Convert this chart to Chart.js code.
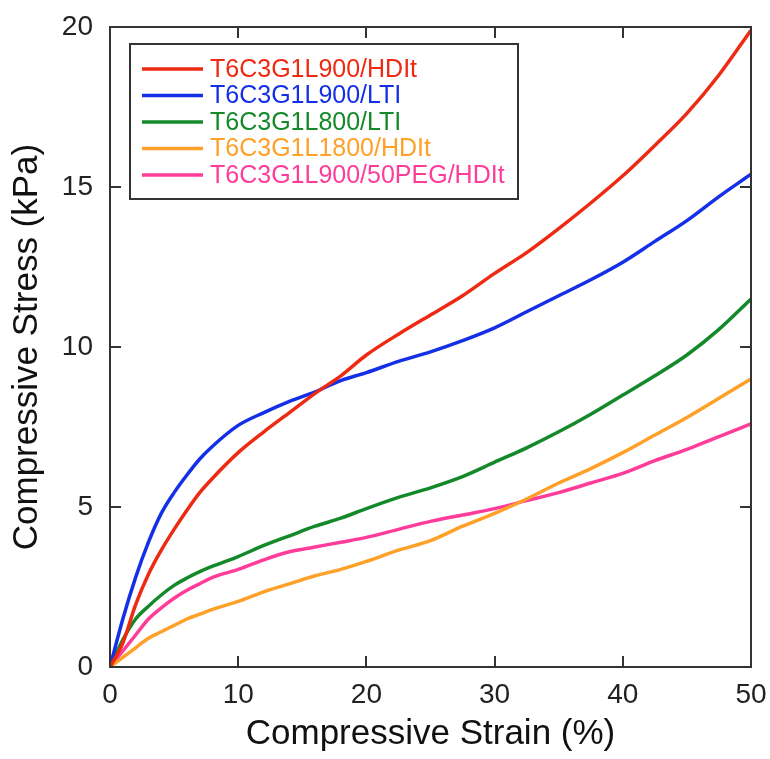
<!DOCTYPE html>
<html>
<head>
<meta charset="utf-8">
<script src="https://cdn.jsdelivr.net/npm/chart.js@4/dist/chart.umd.min.js"></script>
<style>
  html, body { margin: 0; padding: 0; background: #fff; }
  #wrap { width: 770px; height: 759px; }
</style>
</head>
<body>
<div id="wrap"><canvas id="stressChart" width="770" height="759"></canvas></div>
<script>
// strain (%) sample points shared by all curves
const strain = [0, 1, 2, 3, 4, 5, 6, 7, 8, 10, 12, 14, 16, 18, 20, 22.5, 25, 27.5, 30, 32.5, 35, 37.5, 40, 42.5, 45, 47.5, 50];

// compressive stress (kPa)
const l900Hdit  = [0, 0.75, 1.95, 2.9, 3.65, 4.3, 4.9, 5.45, 5.9, 6.7, 7.35, 7.95, 8.55, 9.1, 9.75, 10.4, 11.0, 11.6, 12.3, 12.95, 13.7, 14.5, 15.35, 16.3, 17.3, 18.5, 19.9];
const l900Lti   = [0, 1.5, 2.8, 3.9, 4.8, 5.45, 6.0, 6.5, 6.9, 7.55, 7.95, 8.3, 8.6, 8.95, 9.2, 9.55, 9.85, 10.2, 10.6, 11.1, 11.6, 12.1, 12.65, 13.3, 13.95, 14.7, 15.4];
const l800Lti   = [0, 0.85, 1.5, 1.9, 2.25, 2.55, 2.78, 2.98, 3.15, 3.45, 3.8, 4.1, 4.4, 4.65, 4.95, 5.3, 5.6, 5.95, 6.4, 6.85, 7.35, 7.9, 8.5, 9.1, 9.75, 10.55, 11.5];
const l1800Hdit = [0, 0.3, 0.6, 0.9, 1.1, 1.3, 1.5, 1.65, 1.8, 2.05, 2.35, 2.6, 2.85, 3.05, 3.3, 3.65, 3.95, 4.4, 4.8, 5.25, 5.75, 6.2, 6.7, 7.25, 7.8, 8.4, 9.0];
const pegHdit   = [0, 0.5, 1.0, 1.5, 1.85, 2.15, 2.4, 2.6, 2.8, 3.05, 3.35, 3.6, 3.75, 3.9, 4.05, 4.3, 4.55, 4.75, 4.95, 5.2, 5.45, 5.75, 6.05, 6.45, 6.8, 7.2, 7.6];

const seriesNames = ['T6C3G1L900/HDIt', 'T6C3G1L900/LTI', 'T6C3G1L800/LTI', 'T6C3G1L1800/HDIt', 'T6C3G1L900/50PEG/HDIt'];
const seriesData = [l900Hdit, l900Lti, l800Lti, l1800Hdit, pegHdit];
const seriesColors = ['#ee2a12', '#1430e6', '#14892a', '#ffa028', '#ff3c9a'];

const xTicks = [0, 10, 20, 30, 40, 50];
const yTicks = [0, 5, 10, 15, 20];

const font = 'Liberation Sans, Arial, Helvetica, sans-serif';

// closed frame with inward tick marks on all four sides
const framePlugin = {
  id: 'frame',
  afterDatasetsDraw(chart) {
    const { ctx, chartArea: a, scales } = chart;
    const len = 11;
    ctx.save();
    ctx.strokeStyle = '#333';
    ctx.lineWidth = 2;
    ctx.strokeRect(a.left, a.top, a.right - a.left, a.bottom - a.top);
    ctx.beginPath();
    xTicks.forEach(v => {
      const px = Math.round(scales.x.getPixelForValue(v));
      ctx.moveTo(px, a.bottom); ctx.lineTo(px, a.bottom - len);
      ctx.moveTo(px, a.top); ctx.lineTo(px, a.top + len);
    });
    yTicks.forEach(v => {
      const py = Math.round(scales.y.getPixelForValue(v));
      ctx.moveTo(a.left, py); ctx.lineTo(a.left + len, py);
      ctx.moveTo(a.right, py); ctx.lineTo(a.right - len, py);
    });
    ctx.stroke();
    ctx.restore();
  }
};

// boxed legend in the upper left of the plot
const boxLegend = {
  id: 'boxLegend',
  afterDraw(chart) {
    const { ctx } = chart;
    const x0 = 130, y0 = 44, w = 388, h = 155;
    ctx.save();
    ctx.fillStyle = '#fff';
    ctx.fillRect(x0, y0, w, h);
    ctx.strokeStyle = '#333';
    ctx.lineWidth = 2;
    ctx.strokeRect(x0, y0, w, h);
    ctx.font = '25px ' + font;
    ctx.textBaseline = 'middle';
    chart.data.datasets.forEach((ds, i) => {
      const y = 69 + i * 26.5;
      ctx.strokeStyle = ds.borderColor;
      ctx.lineWidth = 3.5;
      ctx.beginPath();
      ctx.moveTo(142, y);
      ctx.lineTo(203, y);
      ctx.stroke();
      ctx.fillStyle = ds.borderColor;
      ctx.fillText(ds.label, 210, y + 1);
    });
    ctx.restore();
  }
};

new Chart(document.getElementById('stressChart'), {
  type: 'line',
  data: {
    datasets: seriesNames.map((name, i) => ({
      label: name,
      data: strain.map((s, j) => ({ x: s, y: seriesData[i][j] })),
      borderColor: seriesColors[i],
      backgroundColor: seriesColors[i],
      borderWidth: 3.5,
      pointRadius: 0,
      cubicInterpolationMode: 'monotone',
      fill: false
    }))
  },
  options: {
    responsive: false,
    animation: false,
    layout: { padding: { top: 27, right: 19, left: 0, bottom: 0 } },
    plugins: {
      legend: { display: false },
      tooltip: { enabled: false }
    },
    scales: {
      x: {
        type: 'linear',
        min: 0,
        max: 50,
        afterFit(scale) {
          scale.height = 92;
          scale.paddingLeft = 0;
          scale.paddingRight = 0;
        },
        afterBuildTicks(scale) { scale.ticks = xTicks.map(v => ({ value: v })); },
        grid: { display: false, drawTicks: false },
        border: { display: false },
        ticks: { color: '#222', font: { family: font, size: 28 }, padding: 11, maxRotation: 0 },
        title: {
          display: true,
          text: 'Compressive Strain (%)',
          color: '#111',
          font: { family: font, size: 35 },
          padding: { top: 0, bottom: 4 }
        }
      },
      y: {
        type: 'linear',
        min: 0,
        max: 20,
        afterFit(scale) {
          scale.width = 110;
          scale.paddingTop = 0;
          scale.paddingBottom = 0;
        },
        afterBuildTicks(scale) { scale.ticks = yTicks.map(v => ({ value: v })); },
        grid: { display: false, drawTicks: false },
        border: { display: false },
        ticks: { color: '#222', font: { family: font, size: 28 }, padding: 17 },
        title: {
          display: true,
          text: 'Compressive Stress (kPa)',
          color: '#111',
          font: { family: font, size: 35 },
          padding: { top: 6, bottom: 0 }
        }
      }
    }
  },
  plugins: [framePlugin, boxLegend]
});
</script>
</body>
</html>
